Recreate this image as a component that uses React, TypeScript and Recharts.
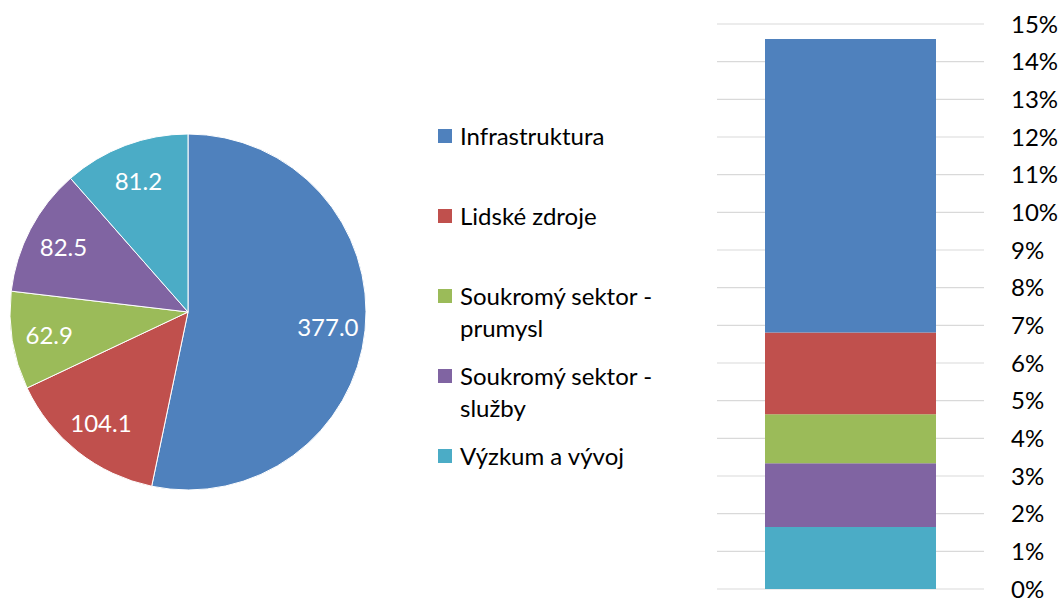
import { PieChart, Pie, Cell, Legend, BarChart, Bar, XAxis, YAxis, CartesianGrid } from 'recharts';

const categories = ['Infrastruktura', 'Lidské zdroje', 'Soukromý sektor - prumysl', 'Soukromý sektor - služby', 'Výzkum a vývoj'];
const amounts = [377.0, 104.1, 62.9, 82.5, 81.2];
const shares = [7.79, 2.17, 1.3, 1.695, 1.645];
const colors = ['#4F81BD', '#C0504D', '#9BBB59', '#8064A2', '#4BACC6'];
const percentTicks = [0, 1, 2, 3, 4, 5, 6, 7, 8, 9, 10, 11, 12, 13, 14, 15];

const FONT = 'Lato, "Open Sans", sans-serif';
const RAD = Math.PI / 180;

const pieData = categories.map((name, i) => ({ name, value: amounts[i] }));

// one row, one stacked segment per category
const barRow: Record<string, number | string> = { name: 'total' };
categories.forEach((c, i) => {
  barRow[c] = shares[i];
});
const barData = [barRow];

// bottom of stack first
const stackOrder = [4, 3, 2, 1, 0];

function renderPieLabel(props: any) {
  const { cx, cy, midAngle, outerRadius, value } = props;
  const r = outerRadius * 0.79;
  const x = cx + r * Math.cos(-midAngle * RAD);
  const y = cy + r * Math.sin(-midAngle * RAD);
  return (
    <text x={x} y={y} fill="#fff" textAnchor="middle" dominantBaseline="central" fontSize={24} fontFamily={FONT}>
      {Number(value).toFixed(1)}
    </text>
  );
}

function LegendContent() {
  return (
    <div style={{ fontFamily: FONT, fontSize: 24, color: '#000' }}>
      {categories.map((c, i) => (
        <div key={c} style={{ display: 'flex', alignItems: 'flex-start', height: 80 }}>
          <div style={{ width: 14, height: 14, background: colors[i], marginTop: 9, marginRight: 8, flexShrink: 0 }} />
          <div style={{ width: 215, lineHeight: '32px' }}>{c}</div>
        </div>
      ))}
    </div>
  );
}

export default function App() {
  return (
    <div style={{ position: 'absolute', left: 0, top: 0, width: 1060, height: 599, background: '#fff', fontFamily: FONT }}>
      <div style={{ position: 'absolute', left: 0, top: 0 }}>
        <PieChart width={700} height={599} margin={{ top: 0, right: 0, bottom: 0, left: 0 }}>
          <Pie
            data={pieData}
            dataKey="value"
            nameKey="name"
            cx={188}
            cy={312}
            outerRadius={178}
            startAngle={90}
            endAngle={-270}
            stroke="#fff"
            strokeWidth={1}
            label={renderPieLabel}
            labelLine={false}
            isAnimationActive={false}
          >
            {pieData.map((d, i) => (
              <Cell key={d.name} fill={colors[i]} />
            ))}
          </Pie>
          <Legend content={<LegendContent />} wrapperStyle={{ left: 438, top: 120, width: 250 }} />
        </PieChart>
      </div>
      <div style={{ position: 'absolute', left: 700, top: 0 }}>
        <BarChart width={360} height={599} data={barData} margin={{ top: 24, right: 0, bottom: 10, left: 17 }}>
          <CartesianGrid vertical={false} stroke="#d9d9d9" strokeWidth={1.2} />
          <XAxis dataKey="name" hide />
          <YAxis
            orientation="right"
            width={76}
            domain={[0, 15]}
            ticks={percentTicks}
            interval={0}
            axisLine={false}
            tickLine={false}
            tickSize={0}
            tickMargin={27}
            tick={{ fill: '#000', fontSize: 24, fontFamily: FONT, textAnchor: 'start' }}
            tickFormatter={(v: number) => `${v}%`}
          />
          {stackOrder.map((i) => (
            <Bar key={categories[i]} dataKey={categories[i]} stackId="a" fill={colors[i]} barSize={171} isAnimationActive={false} />
          ))}
        </BarChart>
      </div>
    </div>
  );
}
